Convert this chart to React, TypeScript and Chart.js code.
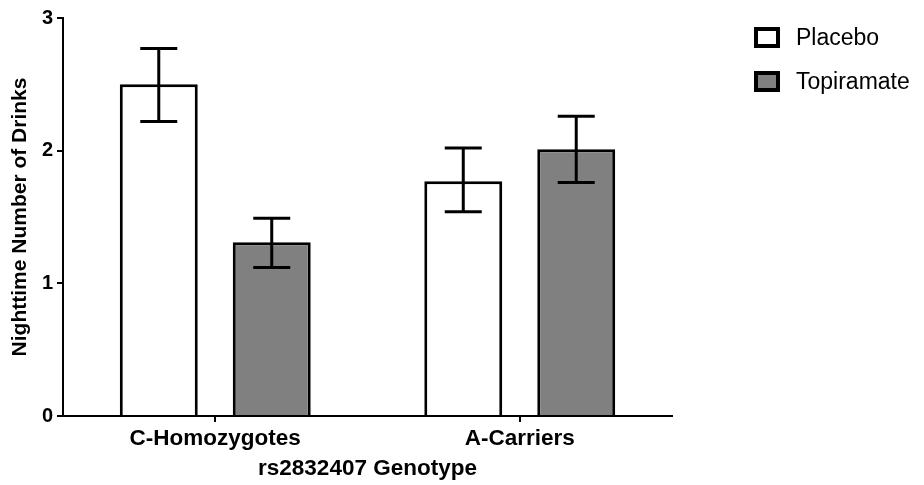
import React, { useEffect, useRef } from 'react';
import { Chart, registerables } from 'chart.js';

Chart.register(...registerables);

const categories = ['C-Homozygotes', 'A-Carriers'];
const seriesNames = ['Placebo', 'Topiramate'];
const placeboMeans = [2.5, 1.77];
const placeboErrLow = [2.22, 1.54];
const placeboErrHigh = [2.77, 2.02];
const topiramateMeans = [1.31, 2.01];
const topiramateErrLow = [1.12, 1.76];
const topiramateErrHigh = [1.49, 2.26];
const yTicks = [0, 1, 2, 3];
const xTitle = 'rs2832407 Genotype';
const yTitle = 'Nighttime Number of Drinks';

const FONT = "'Liberation Sans', Arial, Helvetica, sans-serif";

const errorBarPlugin = {
  id: 'errorBars',
  afterDatasetsDraw(chart: any) {
    const ctx = chart.ctx;
    const yScale = chart.scales.y;
    chart.data.datasets.forEach((ds: any, i: number) => {
      const meta = chart.getDatasetMeta(i);
      meta.data.forEach((el: any, j: number) => {
        const x = el.x;
        const yHi = yScale.getPixelForValue(ds.errHigh[j]);
        const yLo = yScale.getPixelForValue(ds.errLow[j]);
        const cap = 18.5;
        ctx.save();
        ctx.strokeStyle = '#000';
        ctx.lineWidth = 3;
        ctx.beginPath();
        ctx.moveTo(x, yHi);
        ctx.lineTo(x, yLo);
        ctx.moveTo(x - cap, yHi);
        ctx.lineTo(x + cap, yHi);
        ctx.moveTo(x - cap, yLo);
        ctx.lineTo(x + cap, yLo);
        ctx.stroke();
        ctx.restore();
      });
    });
  },
};

const legendPlugin = {
  id: 'customLegend',
  afterDraw(chart: any) {
    const ctx = chart.ctx;
    chart.data.datasets.forEach((ds: any, i: number) => {
      const bx = 754;
      const by = 27 + i * 44;
      const w = 26;
      const h = 21;
      const b = 4;
      ctx.save();
      ctx.fillStyle = '#000';
      ctx.fillRect(bx, by, w, h);
      ctx.fillStyle = ds.backgroundColor;
      ctx.fillRect(bx + b, by + b, w - 2 * b, h - 2 * b);
      ctx.fillStyle = '#000';
      ctx.font = `23px ${FONT}`;
      ctx.textBaseline = 'middle';
      ctx.textAlign = 'left';
      ctx.fillText(ds.label, 796, by + h / 2 + 1);
      ctx.restore();
    });
  },
};

export default function App() {
  const canvasRef = useRef<HTMLCanvasElement | null>(null);

  useEffect(() => {
    if (!canvasRef.current) return;
    const chart = new Chart(canvasRef.current, {
      type: 'bar',
      data: {
        labels: categories,
        datasets: [
          {
            label: seriesNames[0],
            data: placeboMeans,
            backgroundColor: '#ffffff',
            borderColor: '#000000',
            borderWidth: 3,
            errLow: placeboErrLow,
            errHigh: placeboErrHigh,
          } as any,
          {
            label: seriesNames[1],
            data: topiramateMeans,
            backgroundColor: '#808080',
            borderColor: '#000000',
            borderWidth: 3,
            errLow: topiramateErrLow,
            errHigh: topiramateErrHigh,
          } as any,
        ],
      },
      options: {
        animation: false,
        responsive: false,
        maintainAspectRatio: false,
        devicePixelRatio: 1,
        datasets: {
          bar: {
            categoryPercentage: 0.742,
            barPercentage: 0.69,
          },
        },
        layout: { padding: { top: 18, right: 252, left: 0, bottom: 0 } },
        plugins: {
          legend: { display: false },
          tooltip: { enabled: false },
        },
        scales: {
          x: {
            type: 'category',
            offset: true,
            grid: {
              display: true,
              offset: false,
              drawOnChartArea: false,
              drawTicks: true,
              tickLength: 6,
              color: '#000',
              lineWidth: 2,
            },
            border: { display: true, color: '#000', width: 2 },
            ticks: {
              color: '#000',
              font: { family: FONT, size: 22.5, weight: 'bold' },
              padding: 3,
              maxRotation: 0,
            },
            title: {
              display: true,
              text: xTitle,
              color: '#000',
              font: { family: FONT, size: 22.5, weight: 'bold' },
              padding: { top: 0, bottom: 3 },
            },
            afterFit(scale: any) {
              scale.height = 69;
            },
          },
          y: {
            min: 0,
            max: 3,
            afterBuildTicks(scale: any) {
              scale.ticks = yTicks.map((v) => ({ value: v }));
            },
            grid: {
              display: true,
              drawOnChartArea: false,
              drawTicks: true,
              tickLength: 6,
              color: '#000',
              lineWidth: 2,
            },
            border: { display: true, color: '#000', width: 2 },
            ticks: {
              color: '#000',
              font: { family: FONT, size: 20, weight: 'bold' },
              padding: 4,
            },
            title: {
              display: true,
              text: yTitle,
              color: '#000',
              font: { family: FONT, size: 21, weight: 'bold' },
              padding: { top: 8, bottom: 0 },
            },
            afterFit(scale: any) {
              scale.width = 63;
            },
          },
        },
      },
      plugins: [errorBarPlugin, legendPlugin],
    } as any);
    return () => chart.destroy();
  }, []);

  return (
    <div style={{ position: 'fixed', left: 0, top: 0, width: 924, height: 485, background: '#fff' }}>
      <canvas ref={canvasRef} width={924} height={485} style={{ display: 'block', width: 924, height: 485 }} />
    </div>
  );
}
